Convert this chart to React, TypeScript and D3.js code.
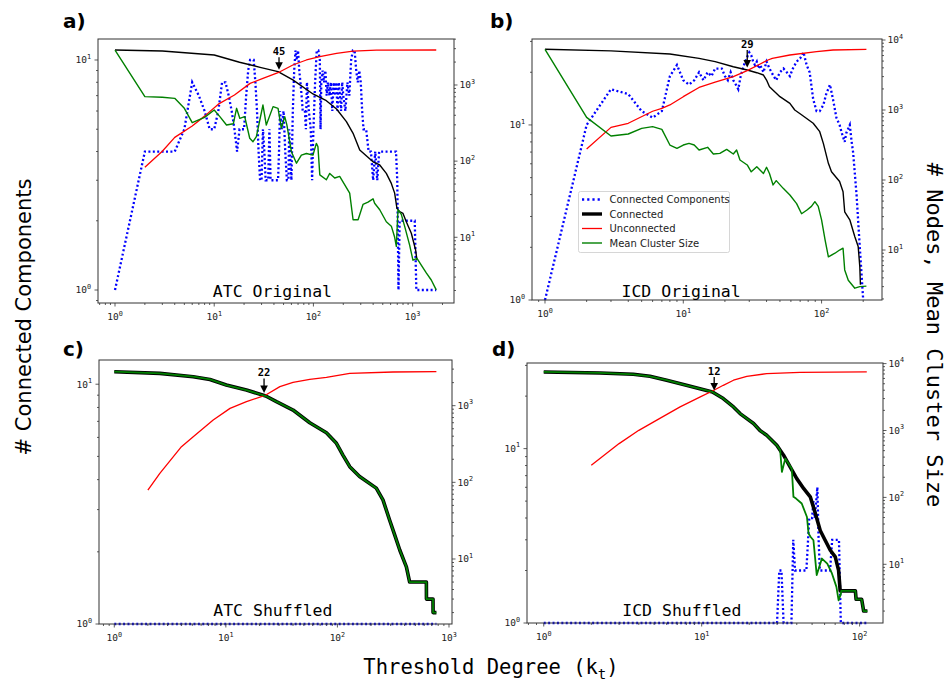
import React from "react";
import * as d3 from "d3";

type Pt = [number, number];

// ---------- ATC, original network (x: threshold degree k_t) ----------
const atcOrigComponents: Pt[] = [
  [1, 1], [2, 4], [3, 4], [4, 4], [5, 5], [6, 8], [7, 7], [8, 6], [9, 5], [10, 5], [11, 6], [12, 8],
  [13, 8], [14, 7], [15, 6], [16, 5], [17, 4], [18, 5], [20, 5], [21, 7], [22, 9], [23, 10], [25, 10],
  [26, 8], [27, 6], [28, 4], [29, 3], [30, 3], [31, 5], [32, 4], [33, 3], [35, 3], [36, 5], [37, 3],
  [40, 3], [44, 3], [45, 4], [46, 6], [48, 5], [50, 6], [52, 4], [54, 3], [56, 3], [57, 5], [58, 4],
  [60, 3], [62, 6], [64, 9], [66, 11], [68, 10], [70, 11], [72, 9], [74, 8], [76, 7], [78, 6], [82, 6],
  [84, 5], [86, 8], [88, 7], [90, 6], [94, 5], [97, 3], [100, 5], [104, 8], [108, 11], [112, 11],
  [116, 10], [118, 5], [120, 8], [124, 9], [128, 8], [132, 9], [136, 7], [140, 8], [145, 7], [150, 8],
  [155, 6], [160, 8], [165, 7], [170, 8], [175, 6], [180, 8], [185, 7], [190, 6], [195, 8], [200, 7],
  [210, 6], [220, 8], [230, 7], [240, 10], [250, 11], [260, 11], [270, 9], [280, 8], [290, 9], [300, 8],
  [310, 6], [320, 5], [340, 5], [360, 4], [380, 4], [400, 3], [420, 4], [440, 3], [460, 4], [480, 4],
  [560, 4], [680, 4], [700, 3], [720, 1], [740, 2], [1050, 2], [1090, 1], [1730, 1],
];
const atcOrigConnected: Pt[] = [
  [1, 2880], [3, 2790], [10, 2480], [18, 1990], [29, 1705], [44, 1497], [62, 1165], [99, 762],
  [135, 622], [171, 484], [215, 330], [251, 232], [293, 140], [399, 98], [466, 89], [543, 69],
  [610, 51], [659, 38], [695, 24], [740, 21.7], [800, 20.6], [863, 16], [970, 11.3], [1072, 6.8], [1106, 5],
];
const atcOrigUnconnected: Pt[] = [
  [2, 83], [3, 135], [4, 205], [6, 290], [8, 390], [11, 560], [16, 740], [23, 1050], [31, 1220],
  [44, 1450], [62, 1830], [85, 2130], [116, 2360], [171, 2600], [251, 2790], [431, 2870], [1730, 2880],
];
const atcOrigClusterSize: Pt[] = [
  [1, 2880], [2, 703], [3, 690], [4, 668], [5, 494], [6, 320], [8, 376], [10, 470], [11.4, 384],
  [13.3, 298], [15.6, 310], [16.8, 494], [18.1, 365], [20.3, 384], [22.8, 200], [24.6, 180], [26.6, 210],
  [31, 546], [33.5, 298], [39.2, 520], [44, 494], [47.5, 270], [51.4, 384], [54, 300], [60, 133],
  [67.5, 94], [75.6, 120], [85, 126], [99, 120], [107, 171], [111, 155], [116, 66], [135, 57], [146, 69],
  [164, 60], [184, 63], [232, 38], [251, 17], [282, 17], [316, 27], [355, 29], [399, 32], [414, 28],
  [466, 23], [543, 16], [610, 14], [659, 10], [685, 7.6], [712, 23], [769, 20], [830, 14], [933, 7.9],
  [1007, 5], [1106, 5.3], [1222, 4.3], [1373, 3.4], [1541, 2.75], [1730, 2.04],
];

// ---------- ICD, original network ----------
const icdOrigComponents: Pt[] = [
  [1, 1], [2, 10], [3, 16], [4, 15], [5, 12], [6, 11], [7, 12], [8, 19], [9, 22], [10, 18], [11, 17],
  [12, 18], [13, 20], [14, 18], [15, 20], [16, 19], [17, 21], [18, 21], [19, 21], [20, 19], [21, 18],
  [22, 20], [23, 18], [24, 17], [25, 16], [26, 19], [27, 21], [28, 23], [30, 26], [31, 25], [32, 23],
  [33, 22], [34, 23], [35, 21], [36, 22], [38, 20], [40, 23], [42, 21], [45, 19], [47, 18], [50, 20],
  [53, 21], [56, 20], [59, 19], [62, 21], [66, 23], [70, 24], [74, 26], [78, 22], [82, 20], [87, 14],
  [92, 12], [97, 12], [103, 13], [108, 15], [115, 17], [121, 14], [128, 11], [135, 10], [140, 9],
  [147, 8], [151, 9], [160, 10], [165, 8], [169, 7], [179, 4], [189, 2], [200, 1],
];
const icdOrigConnected: Pt[] = [
  [1, 7360], [3, 7000], [8, 6300], [13, 5470], [17, 4900], [23, 4150], [29, 3730], [34, 3410],
  [38, 3160], [40, 2680], [42, 2150], [50, 1550], [59, 1245], [64, 1000], [72, 849], [87, 646],
  [97, 490], [103, 334], [112, 173], [118, 131], [135, 95], [143, 68], [147, 35], [160, 27],
  [174, 15.5], [184, 11.2], [189, 5.8], [191, 3.2],
];
const icdOrigUnconnected: Pt[] = [
  [2, 277], [3, 565], [4, 646], [6, 960], [7, 1057], [8, 1180], [10, 1550], [13, 2100], [17, 2500],
  [23, 3000], [29, 3650], [36, 4540], [41, 5180], [44, 5470], [59, 6105], [92, 6810], [121, 7200], [211, 7360],
];
const icdOrigClusterSize: Pt[] = [
  [1, 7360], [2, 785], [3, 425], [4, 454], [5, 547], [6, 578], [7, 530], [8, 316], [9, 283], [10, 316],
  [11, 334], [12, 316], [13, 268], [15, 293], [16.5, 235], [18.4, 240], [20.6, 274], [23, 235],
  [24.3, 268], [25.7, 193], [29, 164], [31, 131], [34, 155], [38, 124], [40, 152], [42, 124], [44.6, 85],
  [47, 98], [52.8, 76], [59, 61], [66, 46], [71.7, 33], [78, 37], [84.5, 42], [89.5, 49], [94.6, 42],
  [100, 27], [106, 14], [112, 8], [125, 9], [135, 10], [143, 10.6], [147, 5.2], [156, 3.7],
  [174, 2.85], [189, 3], [211, 3.05],
];

// ---------- ATC, shuffled network ----------
const atcShufComponents: Pt[] = [[1, 1], [771, 1]];
const atcShufConnected: Pt[] = [
  [1, 2775], [2.56, 2640], [5.1, 2390], [7.2, 2200], [10.1, 1860], [15.3, 1600], [22.8, 1337],
  [28.4, 1128], [40, 878], [56.5, 600], [79.7, 444], [98, 323], [112, 227], [129, 160], [158, 119],
  [223, 84], [256, 59], [294, 32], [326, 20.6], [362, 13.1], [415, 7.9], [444, 5], [627, 5], [628, 3],
  [719, 3], [720, 2], [771, 2],
];
const atcShufUnconnected: Pt[] = [
  [2, 79], [2.56, 131], [4, 292], [5.1, 394], [7.7, 650], [10.9, 923], [15.3, 1128], [22.8, 1378],
  [30.5, 1770], [40, 2014], [56.5, 2203], [79.7, 2342], [129, 2640], [315, 2750], [771, 2775],
];
// every cluster here is the single connected one, so the two curves coincide
const atcShufClusterSize: Pt[] = atcShufConnected;

// ---------- ICD, shuffled network ----------
const icdShufComponents: Pt[] = [
  [1, 1], [30, 1], [31, 2], [32, 2], [33, 1], [37, 1], [38, 3], [39, 2], [46, 2], [48, 4], [50, 4],
  [51, 5], [52, 4], [54, 6], [55, 3], [56, 2], [65, 2], [67, 3], [74, 3], [76, 1], [111, 1],
];
const icdShufConnected: Pt[] = [
  [1, 7500], [2.27, 7250], [3.69, 6920], [4.7, 6460], [6, 5640], [8, 4740], [11.7, 3770],
  [13.7, 3000], [15.9, 2250], [17.5, 1790], [21.3, 1270], [23.4, 1000], [25.8, 849], [29.9, 601],
  [31.4, 507], [33, 427], [36.3, 285], [40, 191], [44.3, 135], [48.7, 102], [52.5, 57], [56.3, 32],
  [60.5, 22.9], [65.2, 16.2], [70.1, 12.9], [73.6, 8.1], [75.3, 4], [94, 4], [95, 3], [103, 3],
  [106, 2], [112, 2],
];
const icdShufUnconnected: Pt[] = [
  [2, 302], [3, 637], [4, 1006], [5.4, 1507], [7.3, 2250], [9.8, 3180], [11.7, 3900], [13.7, 4740],
  [15.9, 5640], [19.3, 6460], [25.8, 7080], [42, 7410], [111, 7500],
];
const icdShufClusterSize: Pt[] = [
  [1, 7500], [2.27, 7250], [3.69, 6920], [4.7, 6460], [6, 5640], [8, 4740], [11.7, 3770],
  [13.7, 3000], [15.9, 2250], [17.5, 1790], [21.3, 1270], [23.4, 1000], [25.8, 849], [29.9, 601],
  [31.4, 507], [32.2, 240], [33.8, 380], [37.2, 269], [38.1, 102], [39.6, 96], [43, 81], [46.4, 51],
  [47.5, 28.8], [49, 25.6], [51, 22.9], [53.5, 6.9], [57.7, 12.2], [62.4, 10.2], [66.8, 7.3],
  [71.3, 4.6], [73.6, 2.9], [76.2, 3.65], [76.5, 4], [94, 4], [95, 3], [103, 3], [106, 2], [112, 2],
];

// crossing degree of connected / unconnected curves, per panel
const crossings = [45, 29, 22, 12];
const panelTags = ["a)", "b)", "c)", "d)"];
const panelTitles = ["ATC Original", "ICD Original", "ATC Shuffled", "ICD Shuffled"];
const legendLabels = ["Connected Components", "Connected", "Unconnected", "Mean Cluster Size"];

const BLUE = "#0000ff";
const RED = "#ff0000";
const GREEN = "#008000";
const BLACK = "#000000";
const AXIS = "#333333";
const MONO = "'DejaVu Sans Mono', monospace";
const SANS = "'DejaVu Sans', sans-serif";

interface PanelSpec {
  tag: string;
  tagPos: [number, number];
  title: string;
  titleFrac: number;
  titleBase: number;
  box: { left: number; top: number; right: number; bottom: number };
  xDom: [number, number];
  yLeftDom: [number, number];
  yRightDom: [number, number];
  components: Pt[];
  connected: Pt[];
  unconnected: Pt[];
  cluster: Pt[];
  crossing: number;
  lift: number;
  shuffled: boolean;
  legend: boolean;
}

const p10 = (e: number) => Math.pow(10, e);

const panels: PanelSpec[] = [
  {
    tag: panelTags[0], tagPos: [63, 28], title: panelTitles[0], titleFrac: 0.49, titleBase: 297,
    box: { left: 98, top: 39, right: 454, bottom: 303 },
    xDom: [p10(-0.1714), p10(3.417)], yLeftDom: [p10(-0.0565), p10(1.0913)], yRightDom: [p10(0.137), p10(3.604)],
    components: atcOrigComponents, connected: atcOrigConnected, unconnected: atcOrigUnconnected,
    cluster: atcOrigClusterSize, crossing: crossings[0], lift: 17, shuffled: false, legend: false,
  },
  {
    tag: panelTags[1], tagPos: [490, 28], title: panelTitles[1], titleFrac: 0.426, titleBase: 297,
    box: { left: 532, top: 39, right: 882, bottom: 300 },
    xDom: [p10(-0.094), p10(2.437)], yLeftDom: [1, p10(1.491)], yRightDom: [p10(0.286), p10(4.0143)],
    components: icdOrigComponents, connected: icdOrigConnected, unconnected: icdOrigUnconnected,
    cluster: icdOrigClusterSize, crossing: crossings[1], lift: 22, shuffled: false, legend: true,
  },
  {
    tag: panelTags[2], tagPos: [63, 356], title: panelTitles[2], titleFrac: 0.4925, titleBase: 616,
    box: { left: 99, top: 360, right: 452, bottom: 624 },
    xDom: [p10(-0.137), p10(3.027)], yLeftDom: [1, p10(1.101)], yRightDom: [p10(0.152), p10(3.596)],
    components: atcShufComponents, connected: atcShufConnected, unconnected: atcShufUnconnected,
    cluster: atcShufClusterSize, crossing: crossings[2], lift: 19, shuffled: true, legend: false,
  },
  {
    tag: panelTags[3], tagPos: [492, 356], title: panelTitles[3], titleFrac: 0.435, titleBase: 616,
    box: { left: 527, top: 363, right: 883, bottom: 623 },
    xDom: [p10(-0.106), p10(2.148)], yLeftDom: [1, p10(1.491)], yRightDom: [p10(0.1226), p10(4.009)],
    components: icdShufComponents, connected: icdShufConnected, unconnected: icdShufUnconnected,
    cluster: icdShufClusterSize, crossing: crossings[3], lift: 18, shuffled: true, legend: false,
  },
];

function logTicks(dom: [number, number]) {
  const [lo, hi] = dom;
  const eps = 1e-9;
  const major: number[] = [];
  const minor: number[] = [];
  for (let e = Math.floor(Math.log10(lo)) - 1; e <= Math.ceil(Math.log10(hi)); e++) {
    for (let m = 1; m <= 9; m++) {
      const v = m * Math.pow(10, e);
      if (v >= lo * (1 - eps) && v <= hi * (1 + eps)) (m === 1 ? major : minor).push(v);
    }
  }
  return { major, minor };
}

// value of a series at k, interpolated in log-log space
function valueAt(series: Pt[], k: number) {
  for (let i = 0; i < series.length - 1; i++) {
    const [k0, v0] = series[i];
    const [k1, v1] = series[i + 1];
    if (k >= k0 && k <= k1) {
      const t = (Math.log(k) - Math.log(k0)) / (Math.log(k1) - Math.log(k0));
      return Math.exp(Math.log(v0) + t * (Math.log(v1) - Math.log(v0)));
    }
  }
  return series[series.length - 1][1];
}

function PowLabel({ x, y, exp, anchor }: { x: number; y: number; exp: number; anchor: string }) {
  return (
    <text x={x} y={y} fontFamily={MONO} fontSize={9.5} fill="#222" textAnchor={anchor}>
      10<tspan dy={-4.5} fontSize={6.8}>{exp}</tspan>
    </text>
  );
}

function Panel({ p }: { p: PanelSpec }) {
  const { left, top, right, bottom } = p.box;
  const x = d3.scaleLog().domain(p.xDom).range([left, right]);
  const yL = d3.scaleLog().domain(p.yLeftDom).range([bottom, top]);
  const yR = d3.scaleLog().domain(p.yRightDom).range([bottom, top]);
  const lineL = d3.line<Pt>().x((d) => x(d[0])).y((d) => yL(d[1]));
  const lineR = d3.line<Pt>().x((d) => x(d[0])).y((d) => yR(d[1]));

  const xt = logTicks(p.xDom);
  const ylt = logTicks(p.yLeftDom);
  const yrt = logTicks(p.yRightDom);

  const cx = x(p.crossing);
  const cy = yR(valueAt(p.connected, p.crossing));
  const tip = cy - 2.5;
  const base = cy - p.lift;
  const MAJ = 3.5;
  const MIN = 2;

  return (
    <g>
      {/* series */}
      <path d={lineL(p.components) || ""} fill="none" stroke={BLUE} strokeWidth={2.3} strokeDasharray="2 2.4" />
      <path d={lineR(p.connected) || ""} fill="none" stroke={BLACK} strokeWidth={p.shuffled ? 3.6 : 1.4} strokeLinejoin="round" />
      <path d={lineR(p.unconnected) || ""} fill="none" stroke={RED} strokeWidth={1.3} strokeLinejoin="round" />
      <path d={lineR(p.cluster) || ""} fill="none" stroke={GREEN} strokeWidth={p.shuffled ? 1.8 : 1.4} strokeLinejoin="round" />

      {/* frame */}
      <rect x={left} y={top} width={right - left} height={bottom - top} fill="none" stroke={AXIS} strokeWidth={1} />

      {/* x axis */}
      {xt.minor.map((v, i) => (
        <line key={"xm" + i} x1={x(v)} x2={x(v)} y1={bottom} y2={bottom + MIN} stroke={AXIS} strokeWidth={0.8} />
      ))}
      {xt.major.map((v, i) => (
        <g key={"xM" + i}>
          <line x1={x(v)} x2={x(v)} y1={bottom} y2={bottom + MAJ} stroke={AXIS} strokeWidth={0.8} />
          <PowLabel x={x(v)} y={bottom + 17} exp={Math.round(Math.log10(v))} anchor="middle" />
        </g>
      ))}

      {/* left axis */}
      {ylt.minor.map((v, i) => (
        <line key={"lm" + i} x1={left} x2={left - MIN} y1={yL(v)} y2={yL(v)} stroke={AXIS} strokeWidth={0.8} />
      ))}
      {ylt.major.map((v, i) => (
        <g key={"lM" + i}>
          <line x1={left} x2={left - MAJ} y1={yL(v)} y2={yL(v)} stroke={AXIS} strokeWidth={0.8} />
          <PowLabel x={left - 7} y={yL(v) + 3.3} exp={Math.round(Math.log10(v))} anchor="end" />
        </g>
      ))}

      {/* right axis */}
      {yrt.minor.map((v, i) => (
        <line key={"rm" + i} x1={right} x2={right + MIN} y1={yR(v)} y2={yR(v)} stroke={AXIS} strokeWidth={0.8} />
      ))}
      {yrt.major.map((v, i) => (
        <g key={"rM" + i}>
          <line x1={right} x2={right + MAJ} y1={yR(v)} y2={yR(v)} stroke={AXIS} strokeWidth={0.8} />
          <PowLabel x={right + 5.5} y={yR(v) + 3.3} exp={Math.round(Math.log10(v))} anchor="start" />
        </g>
      ))}

      {/* crossing annotation */}
      <text x={cx} y={base} fontFamily={MONO} fontWeight="bold" fontSize={10.5} textAnchor="middle" fill="#000">
        {p.crossing}
      </text>
      <line x1={cx} x2={cx} y1={base + 2} y2={tip - 6} stroke="#000" strokeWidth={1.3} />
      <polygon points={`${cx - 3.8},${tip - 7.5} ${cx + 3.8},${tip - 7.5} ${cx},${tip}`} fill="#000" />

      {/* panel title and tag */}
      <text
        x={left + (right - left) * p.titleFrac}
        y={p.titleBase}
        fontFamily={MONO}
        fontSize={16.5}
        textAnchor="middle"
        fill="#000"
      >
        {p.title}
      </text>
      <text x={p.tagPos[0]} y={p.tagPos[1]} fontFamily={SANS} fontWeight="bold" fontSize={20} fill="#000">
        {p.tag}
      </text>

      {p.legend && <Legend x0={578.5} y0={191.5} />}
    </g>
  );
}

function Legend({ x0, y0 }: { x0: number; y0: number }) {
  const styles = [
    { stroke: BLUE, w: 2.6, dash: "2.2 3" },
    { stroke: BLACK, w: 3.4, dash: undefined },
    { stroke: RED, w: 1.3, dash: undefined },
    { stroke: GREEN, w: 1.4, dash: undefined },
  ];
  return (
    <g>
      <rect x={x0} y={y0} width={151} height={61} rx={2} fill="#fff" fillOpacity={0.85} stroke="#cccccc" strokeWidth={0.8} />
      {legendLabels.map((lab, i) => {
        const cy = y0 + 8 + i * 14.5;
        const s = styles[i];
        return (
          <g key={lab}>
            <line x1={x0 + 3.5} x2={x0 + 23.5} y1={cy} y2={cy} stroke={s.stroke} strokeWidth={s.w} strokeDasharray={s.dash} />
            <text x={x0 + 31} y={cy + 3.6} fontFamily={SANS} fontSize={10} fill="#222">
              {lab}
            </text>
          </g>
        );
      })}
    </g>
  );
}

export default function App() {
  return (
    <svg
      width={950}
      height={682}
      viewBox="0 0 950 682"
      style={{ position: "absolute", left: 0, top: 0, background: "#fff" }}
    >
      <rect x={0} y={0} width={950} height={682} fill="#fff" />
      {panels.map((p) => (
        <Panel key={p.tag} p={p} />
      ))}
      <text
        transform="translate(31,317) rotate(-90)"
        fontFamily={SANS}
        fontSize={21}
        textAnchor="middle"
        fill="#000"
      >
        # Connected Components
      </text>
      <text
        transform="translate(927,335) rotate(90)"
        fontFamily={MONO}
        fontSize={22}
        textAnchor="middle"
        fill="#000"
      >
        # Nodes, Mean Cluster Size
      </text>
      <text x={491} y={674} fontFamily={MONO} fontSize={20.5} textAnchor="middle" fill="#000">
        Threshold Degree (k<tspan dy={5} fontSize={14}>t</tspan><tspan dy={-5}>)</tspan>
      </text>
    </svg>
  );
}
